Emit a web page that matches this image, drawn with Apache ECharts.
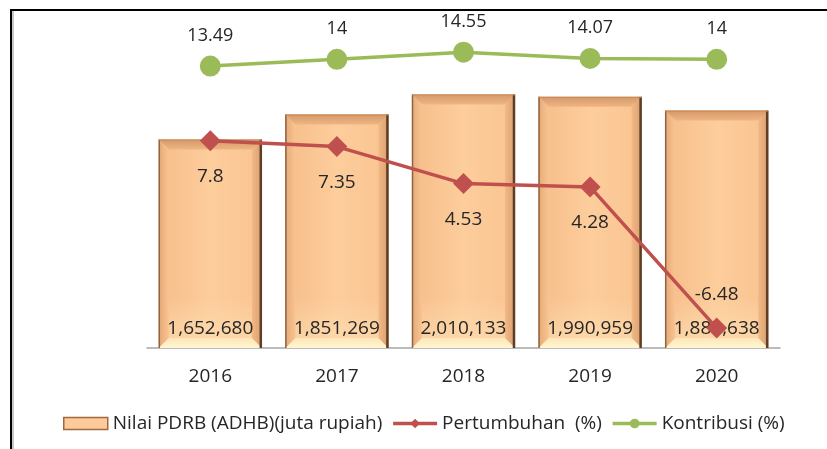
<!DOCTYPE html>
<html>
<head>
<meta charset="utf-8">
<title>PDRB</title>
<script src="https://cdn.jsdelivr.net/npm/echarts@6/dist/echarts.min.js"></script>
<style>
  html, body { margin: 0; padding: 0; background: #ffffff; }
  #chart { width: 827px; height: 449px; }
</style>
</head>
<body>
<div id="chart"></div>
<script>
// Years on the category axis
var years = ['2016', '2017', '2018', '2019', '2020'];
// Nilai PDRB (ADHB), juta rupiah
var pdrb = [1652680, 1851269, 2010133, 1990959, 1881638];
// Pertumbuhan (%)
var pertumbuhan = [7.8, 7.35, 4.53, 4.28, -6.48];
// Kontribusi (%)
var kontribusi = [13.49, 14, 14.55, 14.07, 14];

var NAME_BAR = 'Nilai PDRB (ADHB)(juta rupiah)';
var NAME_GROW = 'Pertumbuhan  (%)';
var NAME_SHARE = 'Kontribusi (%)';

var FONT = '"Open Sans", sans-serif';
var TEXT = '#262626';
var BAR_W = 103;
var BEVEL = 10;

function fmt(v) {
  return v.toLocaleString('en-US');
}

function lin(x0, y0, x1, y1, stops) {
  return new echarts.graphic.LinearGradient(x0, y0, x1, y1, stops);
}

// Beveled column drawn from the value axis coordinates
function renderBevel(params, api) {
  var topPt = api.coord([api.value(0), api.value(1)]);
  var basePt = api.coord([api.value(0), 0]);
  var x0 = topPt[0] - BAR_W / 2, x1 = topPt[0] + BAR_W / 2;
  var y0 = topPt[1], y1 = basePt[1];
  var b = BEVEL;
  return {
    type: 'group',
    children: [
      { type: 'rect', shape: { x: x0, y: y0, width: BAR_W, height: y1 - y0 },
        style: { fill: lin(0, 0, 1, 0, [
          { offset: 0, color: '#f6bd89' }, { offset: 0.5, color: '#fdcd9c' }, { offset: 1, color: '#f9c490' }]) } },
      { type: 'polygon', shape: { points: [[x0, y0], [x1, y0], [x1 - b, y0 + b], [x0 + b, y0 + b]] },
        style: { fill: lin(0, 0, 0, 1, [{ offset: 0, color: '#d6996a' }, { offset: 1, color: '#eeb582' }]) } },
      { type: 'polygon', shape: { points: [[x0, y0], [x0 + b, y0 + b], [x0 + b, y1 - b], [x0, y1]] },
        style: { fill: lin(0, 0, 1, 0, [{ offset: 0, color: '#e6aa78' }, { offset: 1, color: '#f8c492' }]) } },
      { type: 'polygon', shape: { points: [[x1, y0], [x1 - b, y0 + b], [x1 - b, y1 - b], [x1, y1]] },
        style: { fill: lin(0, 0, 1, 0, [{ offset: 0, color: '#f2ba87' }, { offset: 1, color: '#d99d6e' }]) } },
      { type: 'polygon', shape: { points: [[x0, y1], [x0 + b, y1 - b], [x1 - b, y1 - b], [x1, y1]] },
        style: { fill: lin(0, 0, 0, 1, [{ offset: 0, color: '#fde6b8' }, { offset: 1, color: '#fff6d2' }]) } },
      { type: 'rect', shape: { x: x0 + b, y: y1 - b - 40, width: BAR_W - 2 * b, height: 40 },
        style: { fill: lin(0, 0, 0, 1, [{ offset: 0, color: 'rgba(255,230,190,0)' }, { offset: 1, color: 'rgba(255,225,180,0.55)' }]) } },
      { type: 'line', shape: { x1: x0 + 0.5, y1: y0, x2: x0 + 0.5, y2: y1 },
        style: { stroke: '#8f6240', lineWidth: 1.5 } },
      { type: 'line', shape: { x1: x1 - 1, y1: y0, x2: x1 - 1, y2: y1 },
        style: { stroke: '#5e3f26', lineWidth: 2.5 } },
      { type: 'line', shape: { x1: x0, y1: y0 + 0.5, x2: x1, y2: y0 + 0.5 },
        style: { stroke: '#c48b5d', lineWidth: 1 } }
    ]
  };
}

var chart = echarts.init(document.getElementById('chart'), null, { renderer: 'canvas' });

chart.setOption({
  animation: false,
  backgroundColor: '#ffffff',
  textStyle: { fontFamily: FONT },
  grid: { left: 147, right: 47, top: 20, bottom: 101, containLabel: false },
  legend: {
    left: 58,
    top: 409,
    itemWidth: 44,
    itemHeight: 12,
    itemGap: 9,
    textStyle: { fontFamily: FONT, fontSize: 19, color: TEXT },
    data: [
      { name: NAME_BAR, icon: 'rect',
        itemStyle: { color: '#fccb99', borderColor: '#a0683e', borderWidth: 1.5 } },
      { name: NAME_GROW, lineStyle: { width: 3.5 } },
      { name: NAME_SHARE, lineStyle: { width: 3.5 } }
    ]
  },
  xAxis: {
    type: 'category',
    data: years,
    axisLine: { show: true, lineStyle: { color: '#a6a6a6', width: 1.5 } },
    axisTick: { show: false },
    axisLabel: { color: TEXT, fontSize: 19, margin: 19, fontFamily: FONT }
  },
  yAxis: [
    { type: 'value', min: 0, max: 2600000, show: false, splitLine: { show: false } },
    { type: 'value', min: -8, max: 17, show: false, splitLine: { show: false } }
  ],
  series: [
    {
      name: 'bevel',
      type: 'custom',
      xAxisIndex: 0,
      yAxisIndex: 0,
      z: 2,
      silent: true,
      renderItem: renderBevel,
      encode: { x: 0, y: 1 },
      data: pdrb.map(function (v, i) { return [i, v]; })
    },
    {
      name: NAME_BAR,
      type: 'bar',
      yAxisIndex: 0,
      barWidth: BAR_W,
      z: 3,
      itemStyle: { color: 'rgba(0,0,0,0)' },
      label: {
        show: true,
        position: 'insideBottom',
        distance: 10,
        color: TEXT,
        fontSize: 19,
        fontFamily: FONT,
        formatter: function (p) { return fmt(p.value); }
      },
      data: pdrb
    },
    {
      name: NAME_GROW,
      type: 'line',
      yAxisIndex: 1,
      z: 5,
      symbol: 'diamond',
      symbolSize: 21,
      itemStyle: { color: '#c0504d' },
      lineStyle: { color: '#c0504d', width: 3.5 },
      label: {
        show: true,
        position: 'bottom',
        distance: 16,
        color: TEXT,
        fontSize: 19,
        fontFamily: FONT
      },
      data: pertumbuhan.map(function (v) {
        return v < 0 ? { value: v, label: { position: 'top', distance: 13 } } : v;
      })
    },
    {
      name: NAME_SHARE,
      type: 'line',
      yAxisIndex: 1,
      z: 5,
      symbol: 'circle',
      symbolSize: 21,
      itemStyle: { color: '#9bbb59' },
      lineStyle: { color: '#9bbb59', width: 3.5 },
      label: {
        show: true,
        position: 'top',
        distance: 11,
        color: TEXT,
        fontSize: 18,
        fontFamily: FONT
      },
      data: kontribusi
    }
  ],
  graphic: [
    { type: 'line', shape: { x1: 10, y1: 10, x2: 827, y2: 10 }, style: { stroke: '#000000', lineWidth: 2 }, silent: true },
    { type: 'line', shape: { x1: 11, y1: 9, x2: 11, y2: 449 }, style: { stroke: '#000000', lineWidth: 2 }, silent: true },
    { type: 'line', shape: { x1: 13, y1: 11, x2: 13, y2: 449 }, style: { stroke: '#c8c8c8', lineWidth: 2 }, silent: true }
  ]
});
</script>
</body>
</html>
